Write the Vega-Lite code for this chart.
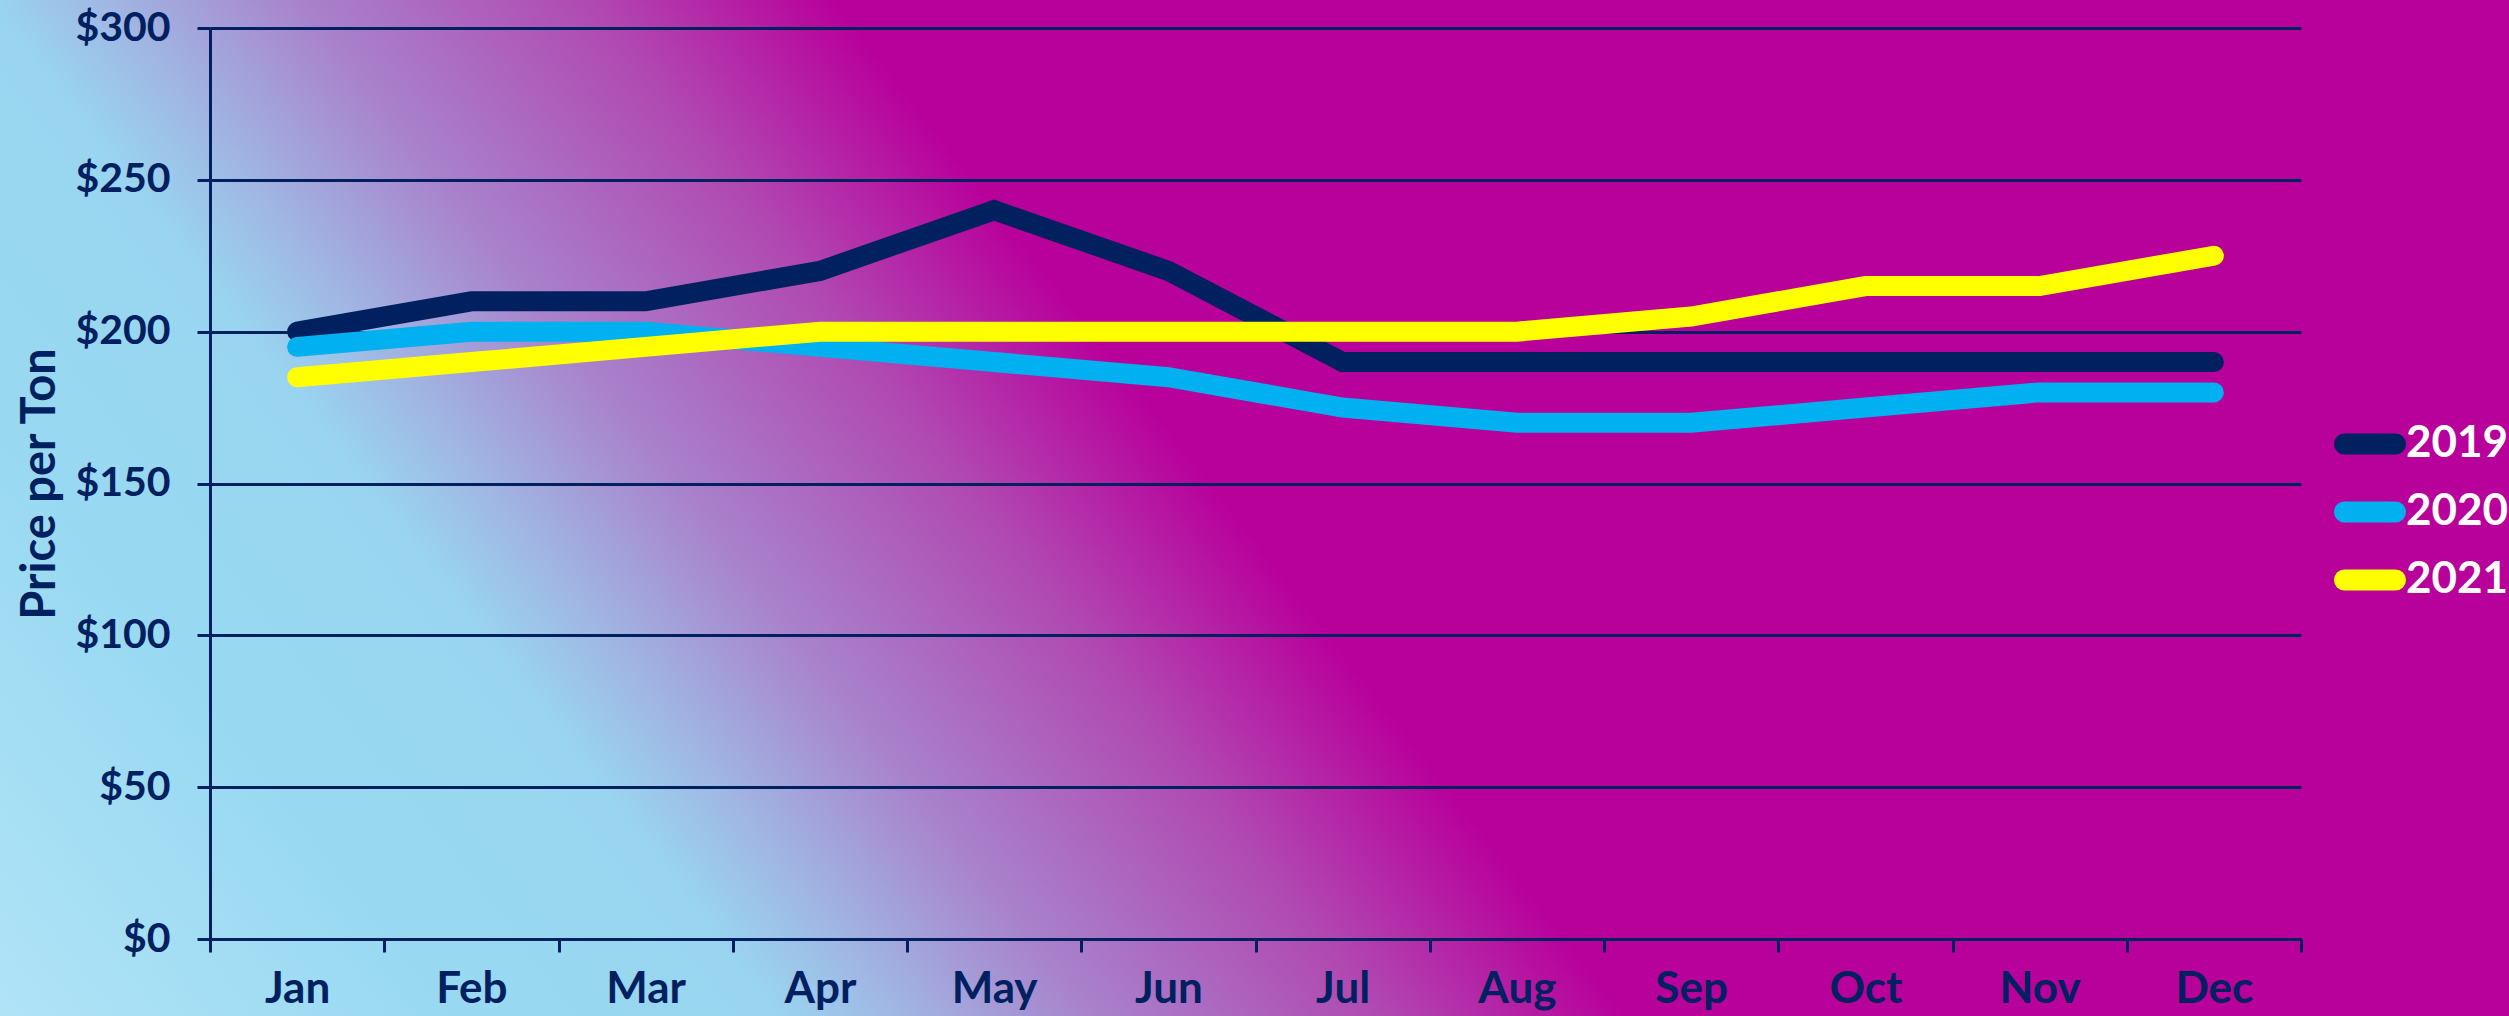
{
  "$schema": "https://vega.github.io/schema/vega-lite/v6.json",
  "width": 2509,
  "height": 1016,
  "autosize": {"type": "none"},
  "padding": 0,
  "background": "#B8009B",
  "data": {
    "values": [
      {"month": "Jan", "year": "2019", "price": 200},
      {"month": "Feb", "year": "2019", "price": 210},
      {"month": "Mar", "year": "2019", "price": 210},
      {"month": "Apr", "year": "2019", "price": 220},
      {"month": "May", "year": "2019", "price": 240},
      {"month": "Jun", "year": "2019", "price": 220},
      {"month": "Jul", "year": "2019", "price": 190},
      {"month": "Aug", "year": "2019", "price": 190},
      {"month": "Sep", "year": "2019", "price": 190},
      {"month": "Oct", "year": "2019", "price": 190},
      {"month": "Nov", "year": "2019", "price": 190},
      {"month": "Dec", "year": "2019", "price": 190},
      {"month": "Jan", "year": "2020", "price": 195},
      {"month": "Feb", "year": "2020", "price": 200},
      {"month": "Mar", "year": "2020", "price": 200},
      {"month": "Apr", "year": "2020", "price": 195},
      {"month": "May", "year": "2020", "price": 190},
      {"month": "Jun", "year": "2020", "price": 185},
      {"month": "Jul", "year": "2020", "price": 175},
      {"month": "Aug", "year": "2020", "price": 170},
      {"month": "Sep", "year": "2020", "price": 170},
      {"month": "Oct", "year": "2020", "price": 175},
      {"month": "Nov", "year": "2020", "price": 180},
      {"month": "Dec", "year": "2020", "price": 180},
      {"month": "Jan", "year": "2021", "price": 185},
      {"month": "Feb", "year": "2021", "price": 190},
      {"month": "Mar", "year": "2021", "price": 195},
      {"month": "Apr", "year": "2021", "price": 200},
      {"month": "May", "year": "2021", "price": 200},
      {"month": "Jun", "year": "2021", "price": 200},
      {"month": "Jul", "year": "2021", "price": 200},
      {"month": "Aug", "year": "2021", "price": 200},
      {"month": "Sep", "year": "2021", "price": 205},
      {"month": "Oct", "year": "2021", "price": 215},
      {"month": "Nov", "year": "2021", "price": 215},
      {"month": "Dec", "year": "2021", "price": 225}
    ]
  },
  "mark": {"type": "line", "strokeWidth": 20, "strokeCap": "round", "strokeJoin": "miter"},
  "encoding": {
    "x": {
      "field": "month",
      "type": "ordinal",
      "bandPosition": 0.5,
      "sort": ["Jan","Feb","Mar","Apr","May","Jun","Jul","Aug","Sep","Oct","Nov","Dec"],
      "scale": {"type": "band", "range": [210, 2301], "paddingInner": 0, "paddingOuter": 0},
      "axis": {
        "title": null,
        "offset": -77,
        "tickBand": "extent",
        "tickSize": 13,
        "tickWidth": 3,
        "tickColor": "#002060",
        "domainColor": "#002060",
        "domainWidth": 3,
        "grid": false,
        "labelAngle": 0,
        "labelFont": "Lato",
        "labelFontWeight": "bold",
        "labelFontSize": 44,
        "labelColor": "#002060",
        "labelPadding": 15
      }
    },
    "y": {
      "field": "price",
      "type": "quantitative",
      "scale": {"domain": [0, 300], "range": [939, 28], "nice": false},
      "axis": {
        "title": "Price per Ton",
        "offset": -210,
        "values": [0, 50, 100, 150, 200, 250, 300],
        "labelExpr": "'$' + datum.value",
        "tickSize": 13,
        "tickWidth": 3,
        "tickColor": "#002060",
        "domainColor": "#002060",
        "domainWidth": 3,
        "grid": true,
        "gridColor": "#002060",
        "gridWidth": 3,
        "gridOpacity": 1,
        "labelFont": "Lato",
        "labelFontWeight": "bold",
        "labelFontSize": 41,
        "labelColor": "#002060",
        "labelPadding": 27,
        "titleFont": "Lato",
        "titleFontWeight": "bold",
        "titleFontSize": 47,
        "titleColor": "#002060",
        "titlePadding": 10
      }
    },
    "color": {
      "field": "year",
      "type": "nominal",
      "scale": {"domain": ["2019", "2020", "2021"], "range": ["#002060", "#00B0F0", "#FFFF00"]},
      "legend": {
        "title": null,
        "orient": "none",
        "legendX": 2334,
        "legendY": 410,
        "direction": "vertical",
        "symbolType": "stroke",
        "symbolSize": 2601,
        "symbolStrokeWidth": 21,
        "labelFont": "Lato",
        "labelFontWeight": "bold",
        "labelFontSize": 44,
        "labelColor": "#FFFFFF",
        "labelOffset": 0,
        "clipHeight": 68,
        "rowPadding": 0,
        "padding": 0,
        "encode": {"symbols": {"update": {"strokeCap": {"value": "round"}}}}
      }
    }
  },
  "config": {
    "view": {
      "stroke": null,
      "fill": {
        "gradient": "linear",
        "x1": -0.303,
        "y1": 0.0957,
        "x2": 0.303,
        "y2": -0.0957,
        "stops": [
          {"offset": 0, "color": "#B3E4F7"},
          {"offset": 0.3, "color": "#98D9F1"},
          {"offset": 0.49, "color": "#99D5F0"},
          {"offset": 0.56, "color": "#A0B8E4"},
          {"offset": 0.68, "color": "#A882CB"},
          {"offset": 0.85, "color": "#B04AB2"},
          {"offset": 1, "color": "#B8009B"}
        ]
      }
    }
  }
}
